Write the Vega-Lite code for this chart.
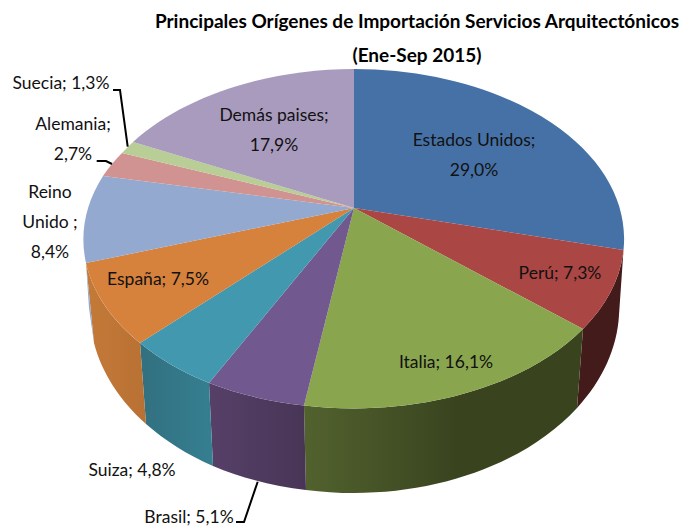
{
"$schema":"https://vega.github.io/schema/vega-lite/v6.json",
"width":696,"height":527,"padding":0,"autosize":"none","background":"white",
"title":{"text":["Principales Orígenes de Importación Servicios Arquitectónicos","(Ene-Sep 2015)"],"font":"Lato","fontSize":19,"fontWeight":"bold","color":"black","lineHeight":34,"anchor":"middle","frame":"group","dx":69,"offset":-66},
"config":{"view":{"stroke":null}},
"data":{"values":[
{"pais":"Estados Unidos","valor":29.0,"etiqueta":"Estados Unidos;\n29,0%"},
{"pais":"Perú","valor":7.3,"etiqueta":"Perú; 7,3%"},
{"pais":"Italia","valor":16.1,"etiqueta":"Italia; 16,1%"},
{"pais":"Brasil","valor":5.1,"etiqueta":"Brasil; 5,1%"},
{"pais":"Suiza","valor":4.8,"etiqueta":"Suiza; 4,8%"},
{"pais":"España","valor":7.5,"etiqueta":"España; 7,5%"},
{"pais":"Reino Unido","valor":8.4,"etiqueta":"Reino\nUnido ;\n8,4%"},
{"pais":"Alemania","valor":2.7,"etiqueta":"Alemania;\n2,7%"},
{"pais":"Suecia","valor":1.3,"etiqueta":"Suecia; 1,3%"},
{"pais":"Demás paises","valor":17.9,"etiqueta":"Demás paises;\n17,9%"}
]},
"resolve":{"scale":{"shape":"independent","color":"independent"}},
"layer":[
{"transform":[{"filter":"datum.pais==='Perú'"}],
"mark":{"type":"point","filled":true,"opacity":1,"size":4,"strokeWidth":0,"fill":"#431b1a","shape":"M275.5,-13.5 A270.5,169.4 0 0 1 235,65.5 L229,144.5 A265,185 0 0 0 271,51.5 Z"},"encoding":{}},
{"transform":[{"filter":"datum.pais==='Italia'"}],
"mark":{"type":"point","filled":true,"opacity":1,"size":4,"strokeWidth":0,"shape":"M235,65.5 A270.5,169.4 0 0 1 -44,142 L-42,226.5 A265,185 0 0 0 229,144.5 Z","fill":{"gradient":"linear","x1":0,"x2":1,"y1":0,"y2":0,"stops":[{"offset":0,"color":"#52622e"},{"offset":0.55,"color":"#39441f"},{"offset":1,"color":"#39441f"}]}},"encoding":{}},
{"transform":[{"filter":"datum.pais==='Brasil'"}],
"mark":{"type":"point","filled":true,"opacity":1,"size":4,"strokeWidth":0,"shape":"M-44,142 A270.5,169.4 0 0 1 -139,119.5 L-135,202.5 A265,185 0 0 0 -42,226.5 Z","fill":{"gradient":"linear","x1":0,"x2":1,"y1":0,"y2":0,"stops":[{"offset":0,"color":"#564068"},{"offset":1,"color":"#483556"}]}},"encoding":{}},
{"transform":[{"filter":"datum.pais==='Suiza'"}],
"mark":{"type":"point","filled":true,"opacity":1,"size":4,"strokeWidth":0,"shape":"M-139,119.5 A270.5,169.4 0 0 1 -208,79.5 L-202,160.5 A265,185 0 0 0 -135,202.5 Z","fill":{"gradient":"linear","x1":0,"x2":1,"y1":0,"y2":0,"stops":[{"offset":0,"color":"#32707f"},{"offset":1,"color":"#357f91"}]}},"encoding":{}},
{"transform":[{"filter":"datum.pais==='España'"}],
"mark":{"type":"point","filled":true,"opacity":1,"size":4,"strokeWidth":0,"shape":"M-208,79.5 A270.5,169.4 0 0 1 -262,-0.5 L-254,79.5 A265,185 0 0 0 -202,160.5 Z","fill":{"gradient":"linear","x1":0,"x2":1,"y1":0,"y2":0,"stops":[{"offset":0,"color":"#c47a38"},{"offset":1,"color":"#b87134"}]}},"encoding":{}},
{"transform":[{"filter":"datum.pais==='Reino Unido'"}],
"mark":{"type":"point","filled":true,"opacity":1,"size":4,"strokeWidth":0,"fill":"#92a7cd","shape":"M-262,-0.5 L-259,44.5 L-254,79.5 Z"},"encoding":{}},
{"mark":{"type":"point","filled":true,"opacity":1,"size":4,"strokeWidth":0},
"encoding":{
"shape":{"field":"pais","type":"nominal","legend":null,"scale":{"domain":["Estados Unidos","Perú","Italia","Brasil","Suiza","España","Reino Unido","Alemania","Suecia","Demás paises"],"range":[
"M6,-55.5 L6,-194.5 A270.5,169.4 0 0 1 275.5,-13.5 Z",
"M6,-55.5 L275.5,-13.5 A270.5,169.4 0 0 1 235,65.5 Z",
"M6,-55.5 L235,65.5 A270.5,169.4 0 0 1 -44,142 Z",
"M6,-55.5 L-44,142 A270.5,169.4 0 0 1 -139,119.5 Z",
"M6,-55.5 L-139,119.5 A270.5,169.4 0 0 1 -208,79.5 Z",
"M6,-55.5 L-208,79.5 A270.5,169.4 0 0 1 -262,-0.5 Z",
"M6,-55.5 L-262,-0.5 A270.5,169.4 0 0 1 -245,-87.5 Z",
"M6,-55.5 L-245,-87.5 A270.5,169.4 0 0 1 -226,-110.5 Z",
"M6,-55.5 L-226,-110.5 A270.5,169.4 0 0 1 -215,-121.5 Z",
"M6,-55.5 L-215,-121.5 A270.5,169.4 0 0 1 6,-194.5 Z"]}},
"color":{"field":"pais","type":"nominal","legend":null,"scale":{"domain":["Estados Unidos","Perú","Italia","Brasil","Suiza","España","Reino Unido","Alemania","Suecia","Demás paises"],"range":["#4671a7","#aa4644","#89a54e","#71588f","#4198af","#d6813c","#93a9cf","#d09392","#b9cd96","#a99bbd"]}}
}},
{"transform":[{"filter":{"field":"pais","oneOf":["Suecia","Alemania","Brasil"]}}],
"mark":{"type":"point","filled":false,"opacity":1,"size":4,"strokeWidth":2,"color":"black"},
"encoding":{
"shape":{"field":"pais","type":"nominal","legend":null,"scale":{"domain":["Suecia","Alemania","Brasil"],"range":[
"M-235,-173.5 L-228,-173.5 L-220.3,-116.8",
"M-251.3,-102.5 L-242,-102.5 L-236,-99.5",
"M-112,258.5 L-104,258.5 L-90.3,218.2"]}}
}},
{"mark":{"type":"text","font":"Lato","fontSize":17.5,"lineBreak":"\n","lineHeight":30,"align":"center","baseline":"middle","color":"#111111",
"dx":{"expr":"{'Estados Unidos':126,'Perú':212,'Italia':98,'Brasil':-159,'Suiza':-216,'España':-190,'Reino Unido':-298,'Alemania':-275,'Suecia':-287,'Demás paises':-74}[datum.pais]"},
"dy":{"expr":"{'Estados Unidos':-122.5,'Perú':10.5,'Italia':99.5,'Brasil':254.5,'Suiza':207.5,'España':16,'Reino Unido':-70.5,'Alemania':-139,'Suecia':-180,'Demás paises':-148}[datum.pais]"}},
"encoding":{"text":{"field":"etiqueta","type":"nominal"}}}
]
}
